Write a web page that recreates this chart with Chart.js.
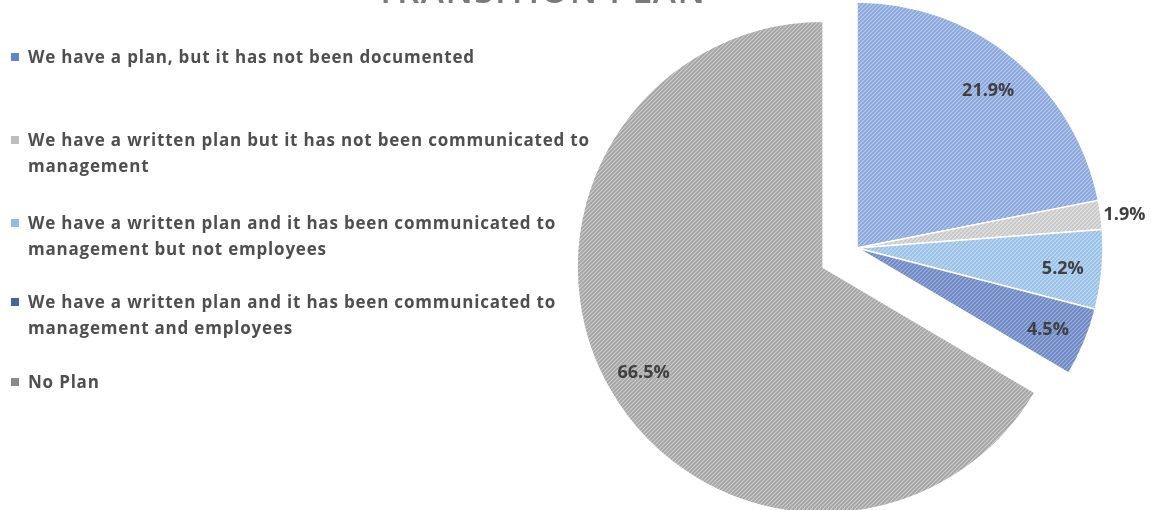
<!DOCTYPE html>
<html>
<head>
<meta charset="utf-8">
<title>Transition Plan</title>
<script src="https://cdn.jsdelivr.net/npm/chart.js@4.4.1/dist/chart.umd.min.js"></script>
<style>
  html, body { margin: 0; padding: 0; background: #fff; overflow: hidden; }
  #wrap { position: relative; width: 1151px; height: 510px; }
  #planChart { position: absolute; left: 0; top: 0; }
  #title {
    position: absolute; left: 0; top: -28px; width: 1082px; text-align: center;
    font: 600 35px "Open Sans", sans-serif; line-height: 36px; letter-spacing: 1.5px;
    color: #7a7a7a; white-space: nowrap;
  }
  #legend {
    position: absolute; left: 11px; top: 0; width: 610px;
    font: 700 17px "Open Sans", sans-serif; color: #4f4f4f; line-height: 26px;
    letter-spacing: 0.8px;
  }
  .item { position: absolute; left: 0; width: 610px; }
  .item .box { position: absolute; left: 0; top: 9px; width: 8px; height: 8px; }
  .item .txt { margin-left: 17px; width: 585px; }
</style>
</head>
<body>
<div id="wrap">
  <canvas id="planChart" width="1151" height="510"></canvas>
  <div id="title">TRANSITION PLAN</div>
  <div id="legend"></div>
</div>
<script>
// Survey answers and their share of respondents (%)
const categories = [
  'We have a plan, but it has not been documented',
  'We have a written plan but it has not been communicated to management',
  'We have a written plan and it has been communicated to management but not employees',
  'We have a written plan and it has been communicated to management and employees',
  'No Plan'
];
const shares = [21.9, 1.9, 5.2, 4.5, 66.5];

// slice fill (base + hatch stripe) and legend swatch colours
const baseColors   = ['#87a5da', '#c6c6c6', '#95bfe7', '#6c86c3', '#a4a4a4'];
const stripeColors = ['#bccdee', '#e6e6e6', '#c6ddf4', '#a0b3de', '#cdcdcd'];
const swatchColors = ['#5f86cc', '#bdbdbd', '#8fbbe4', '#4a63a0', '#8a8a8a'];
const legendTops   = [44, 127, 210, 289, 369];

// pulled-out distance for the "No Plan" slice
const EXPLODE = 39;

// fine diagonal hatch, like the office-style pattern fill
function hatch(base, stripe) {
  const c = document.createElement('canvas');
  c.width = 4; c.height = 4;
  const g = c.getContext('2d');
  g.fillStyle = base;
  g.fillRect(0, 0, 4, 4);
  g.strokeStyle = stripe;
  g.lineWidth = 1.1;
  g.beginPath();
  g.moveTo(-1, 5); g.lineTo(5, -1);
  g.moveTo(-1, 1); g.lineTo(1, -1);
  g.moveTo(3, 5); g.lineTo(5, 3);
  g.stroke();
  return g.createPattern(c, 'repeat');
}

const explodePlugin = {
  id: 'explode',
  afterDatasetUpdate(chart, args) {
    const arcs = args.meta.data;
    arcs.forEach((arc, i) => {
      if (categories[i] !== 'No Plan') return;
      const mid = (arc.startAngle + arc.endAngle) / 2;
      arc.x += Math.cos(mid) * EXPLODE;
      arc.y += Math.sin(mid) * EXPLODE;
    });
  }
};

const sliceLabels = {
  id: 'sliceLabels',
  afterDatasetsDraw(chart) {
    const ctx = chart.ctx;
    const arcs = chart.getDatasetMeta(0).data;
    ctx.save();
    ctx.font = 'bold 18px "Open Sans", sans-serif';
    ctx.fillStyle = '#404040';
    ctx.textAlign = 'center';
    ctx.textBaseline = 'middle';
    arcs.forEach((arc, i) => {
      const mid = (arc.startAngle + arc.endAngle) / 2;
      const r = shares[i] < 3 ? arc.outerRadius + 24 : arc.outerRadius * 0.84;
      ctx.fillText(shares[i].toFixed(1) + '%', arc.x + Math.cos(mid) * r, arc.y + Math.sin(mid) * r + 3);
    });
    ctx.restore();
  }
};

new Chart(document.getElementById('planChart'), {
  type: 'pie',
  data: {
    labels: categories,
    datasets: [{
      data: shares,
      backgroundColor: baseColors.map((b, i) => hatch(b, stripeColors[i])),
      borderColor: '#ffffff',
      borderWidth: 1.5,
      clip: false
    }]
  },
  options: {
    responsive: false,
    animation: false,
    radius: 246,
    layout: { padding: { left: 563, right: 0, top: 0, bottom: 14 } },
    plugins: {
      legend: { display: false },
      tooltip: { enabled: false }
    }
  },
  plugins: [explodePlugin, sliceLabels]
});

// legend on the left
const legend = document.getElementById('legend');
categories.forEach((name, i) => {
  const item = document.createElement('div');
  item.className = 'item';
  item.style.top = legendTops[i] + 'px';
  item.innerHTML = '<span class="box" style="background:' + swatchColors[i] + '"></span><div class="txt">' + name + '</div>';
  legend.appendChild(item);
});
</script>
</body>
</html>
